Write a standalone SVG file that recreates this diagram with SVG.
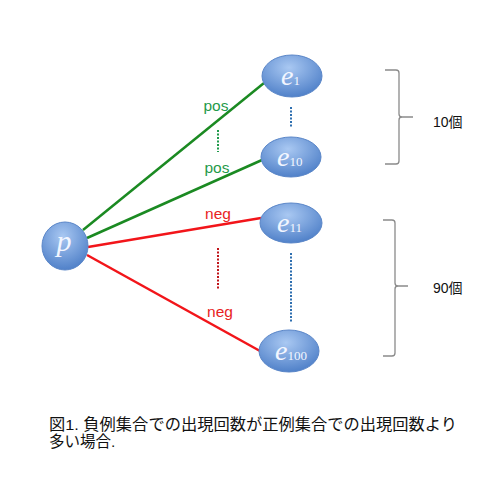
<svg xmlns="http://www.w3.org/2000/svg" width="500" height="500" viewBox="0 0 500 500">
<defs>
<radialGradient id="ng" cx="0.45" cy="0.3" r="0.75">
<stop offset="0" stop-color="#a9c8f2"/>
<stop offset="1" stop-color="#4a7cc6"/>
</radialGradient>
<style>
.node{fill:url(#ng);stroke:#5a86c8;stroke-width:1}
.nl{font-family:"Liberation Serif",serif;font-style:italic;fill:#f2f6ff}
.sub{font-family:"Liberation Serif",serif;font-style:normal;fill:#f2f6ff;font-size:13px}
.pos{font-family:"Liberation Sans",Arial,sans-serif;font-size:15.5px;fill:#1f9a4a}
.neg{font-family:"Liberation Sans",Arial,sans-serif;font-size:15.5px;fill:#e8231f}
.gl{stroke:#1b8a22;stroke-width:2.5;fill:none}
.rl{stroke:#f2151a;stroke-width:2.5;fill:none}
.brace{stroke:#8a8a8a;stroke-width:1.3;fill:none}
.lbl{font-family:"Liberation Sans",Arial,"Noto Sans CJK JP",sans-serif;font-size:14px;fill:#111}
.cap{font-family:"Liberation Sans",Arial,"Noto Sans CJK JP",sans-serif;font-size:15.5px;fill:#111}
</style>
</defs>
<rect width="500" height="500" fill="#ffffff"/>
<g id="connectors">
<line class="gl" x1="83" y1="230" x2="264" y2="83"/>
<line class="gl" x1="87" y1="238" x2="262" y2="160"/>
<line class="rl" x1="88" y1="247" x2="261" y2="218"/>
<line class="rl" x1="87" y1="255" x2="260" y2="351"/>
<line x1="218" y1="130" x2="218" y2="152" stroke="#1f9a4a" stroke-width="2" stroke-dasharray="2,1.5"/>
<line x1="218" y1="248" x2="218" y2="290" stroke="#c0141a" stroke-width="2" stroke-dasharray="2,1.5"/>
<line x1="291" y1="107" x2="291" y2="128" stroke="#2e6fb0" stroke-width="2" stroke-dasharray="2,1.5"/>
<line x1="291" y1="253" x2="291" y2="322" stroke="#2e6fb0" stroke-width="2" stroke-dasharray="2,1.5"/>
<text class="pos" x="216" y="111" text-anchor="middle">pos</text>
<text class="pos" x="217" y="173" text-anchor="middle">pos</text>
<text class="neg" x="218" y="219" text-anchor="middle">neg</text>
<text class="neg" x="220" y="317" text-anchor="middle">neg</text>
</g>
<g id="node-p">
<ellipse class="node" cx="65" cy="246" rx="23" ry="24"/>
<text class="nl" x="64" y="251" font-size="30" text-anchor="middle">p</text>
</g>
<g id="node-e1">
<ellipse class="node" cx="292" cy="76" rx="30" ry="21"/>
<text class="nl" x="281" y="85" font-size="28">e<tspan class="sub" font-style="normal">1</tspan></text>
</g>
<g id="node-e10">
<ellipse class="node" cx="291" cy="157" rx="30" ry="20"/>
<text class="nl" x="277" y="166" font-size="28">e<tspan class="sub" font-style="normal">10</tspan></text>
</g>
<g id="node-e11">
<ellipse class="node" cx="291" cy="223" rx="31" ry="20"/>
<text class="nl" x="277" y="232" font-size="28">e<tspan class="sub" font-style="normal">11</tspan></text>
</g>
<g id="node-e100">
<ellipse class="node" cx="289" cy="351" rx="30" ry="21"/>
<text class="nl" x="275" y="360" font-size="28">e<tspan class="sub" font-style="normal">100</tspan></text>
</g>
<g id="brace-10">
<path class="brace" d="M385,70 H396 Q399,70 399,73 V114 Q399,117 402,117 H413 M402,117 Q399,117 399,120 V161 Q399,164 396,164 H385"/>
<text class="lbl" x="433" y="127">10個</text>
</g>
<g id="brace-90">
<path class="brace" d="M383,220 H392 Q395,220 395,223 V283 Q395,286 398,286 H408 M398,286 Q395,286 395,289 V353 Q395,356 392,356 H383"/>
<text class="lbl" x="433" y="293">90個</text>
</g>
<g id="caption">
<text class="cap" x="49" y="430" textLength="408" lengthAdjust="spacingAndGlyphs">図1. 負例集合での出現回数が正例集合での出現回数より</text>
<text class="cap" x="49" y="447">多い場合.</text>
</g>
</svg>
